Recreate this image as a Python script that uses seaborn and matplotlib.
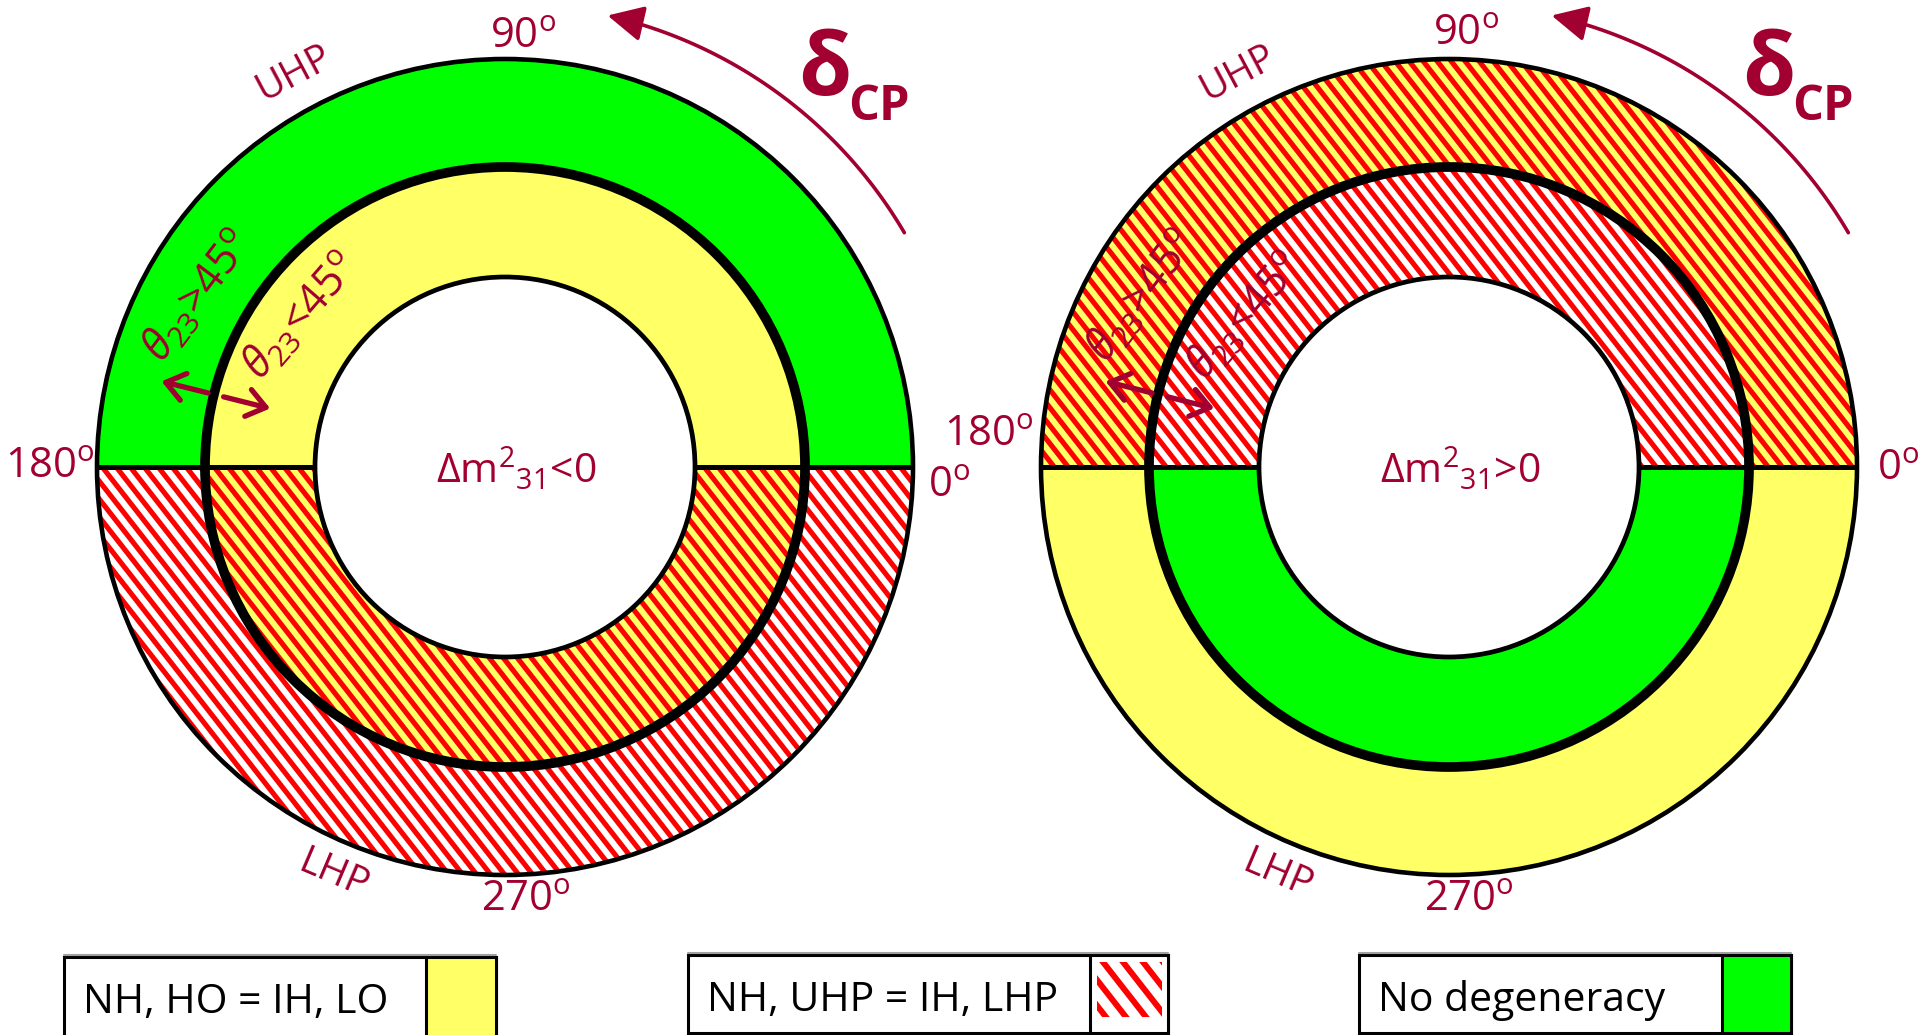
import numpy as np
import matplotlib
matplotlib.use("Agg")
import matplotlib.pyplot as plt
import seaborn as sns
from matplotlib.patches import Wedge, Circle, Rectangle, FancyArrowPatch
from matplotlib.collections import LineCollection
from matplotlib.path import Path

# ---------------- content ----------------
cp_angles = [0, 90, 180, 270]
cp_angle_labels = ["0", "90", "180", "270"]
half_planes = ["UHP", "LHP"]
# outer ring, middle ring
octant_labels = [r"$\theta_{23}$>45$^{\mathrm{o}}$", r"$\theta_{23}$<45$^{\mathrm{o}}$"]
hierarchy_labels = [r"Δm$^{2}$$_{31}$<0", r"Δm$^{2}$$_{31}$>0"]
# degeneracy class of [outer ring, middle ring] in each half plane
left_upper = ["none", "octant"]
left_lower = ["cp", "both"]
right_upper = ["both", "cp"]
right_lower = ["octant", "none"]
legend_labels = ["NH, HO = IH, LO", "NH, UHP = IH, LHP", "No degeneracy"]
legend_kinds = ["octant", "cp", "none"]

# ---------------- style ----------------
sns.set_theme(style="white")
plt.rcParams["font.family"] = ["Open Sans", "DejaVu Sans"]
plt.rcParams["mathtext.fontset"] = "custom"
plt.rcParams["mathtext.rm"] = "Open Sans"
plt.rcParams["mathtext.it"] = "Open Sans:italic"
plt.rcParams["mathtext.bf"] = "Open Sans:bold"

GREEN = "#00FF00"
YELLOW = "#FFFF66"
RED = "#FF0000"
DARK = "#A10030"
KIND_STYLE = {
    "none": (GREEN, None),
    "octant": (YELLOW, None),
    "cp": ("white", RED),
    "both": (YELLOW, RED),
}

W, H = 1920, 1035
fig = plt.figure(figsize=(W / 100, H / 100), dpi=100)
ax = fig.add_axes([0, 0, 1, 1])
ax.set_xlim(0, W)
ax.set_ylim(0, H)
ax.axis("off")


def P(x, y):
    """screen pixel (y downwards) -> axes data"""
    return (x, H - y)


def stripe_fill(clip, bounds, color, period_x, lw, angle=52, z=2):
    x0, y0, x1, y1 = bounds
    a = np.radians(angle)
    dx, dy = np.cos(a), -np.sin(a)
    span = (x1 - x0) + (y1 - y0)
    yc = 0.0
    # lines pass through (x, yc) with a global phase so patterns line up
    lo = np.floor((x0 - 2 * span - H) / period_x) * period_x
    xs = np.arange(lo, x1 + 2 * span + H, period_x)
    L = 3 * (span + H)
    segs = [[(x - dx * L, yc - dy * L), (x + dx * L, yc + dy * L)] for x in xs]
    lc = LineCollection(segs, colors=color, linewidths=lw, zorder=z,
                        capstyle="butt")
    ax.add_collection(lc)
    lc.set_clip_path(clip)


R_OUT, R_MID, R_IN = 408, 300, 190


def draw_diagram(cx, cy_px, upper, lower, hier_label):
    c = P(cx, cy_px)
    rings = [(R_OUT, R_OUT - R_MID), (R_MID, R_MID - R_IN)]
    for kinds, (t1, t2) in ((upper, (0, 180)), (lower, (180, 360))):
        for kind, (r, w) in zip(kinds, rings):
            bg, fg = KIND_STYLE[kind]
            wd = Wedge(c, r, t1, t2, width=w, facecolor=bg, edgecolor="none",
                       zorder=1)
            ax.add_patch(wd)
            if fg is not None:
                stripe_fill(wd, (c[0] - r, c[1] - r, c[0] + r, c[1] + r),
                            fg, 14.0, 3.7)
    # outlines
    ax.add_patch(Circle(c, R_IN, facecolor="white", edgecolor="black",
                        lw=3.4, zorder=3))
    ax.add_patch(Circle(c, R_MID, facecolor="none", edgecolor="black",
                        lw=7.0, zorder=3))
    ax.add_patch(Circle(c, R_OUT, facecolor="none", edgecolor="black",
                        lw=3.3, zorder=3))
    for sgn in (-1, 1):
        ax.plot([c[0] + sgn * R_IN, c[0] + sgn * R_OUT], [c[1], c[1]],
                color="black", lw=3.6, solid_capstyle="butt", zorder=3)

    # hierarchy label in the middle
    ax.text(c[0] + 11, c[1] - 2, hier_label, ha="center", va="center",
            fontsize=29.5, color=DARK, zorder=5)

    # half plane labels
    ax.text(c[0] - 211, c[1] + 394, half_planes[0], ha="center", va="center",
            rotation=28, fontsize=28, color=DARK, zorder=5)
    ax.text(c[0] - 172, c[1] - 408, half_planes[1], ha="center", va="center",
            rotation=-23, fontsize=28, color=DARK, zorder=5)

    # octant labels and arrows across the ring boundary
    ax.text(c[0] - 306, c[1] + 170, octant_labels[0], ha="center",
            va="center", rotation=53, fontsize=31, color=DARK, zorder=5)
    ax.text(c[0] - 203, c[1] + 150, octant_labels[1], ha="center",
            va="center", rotation=49, fontsize=31, color=DARK, zorder=5)
    phi = np.radians(166)
    u = np.array([np.cos(phi), np.sin(phi)])
    for r0, r1 in ((306, 354), (290, 242)):
        a = FancyArrowPatch(tuple(np.array(c) + r0 * u),
                            tuple(np.array(c) + r1 * u),
                            arrowstyle="->,head_length=0.6,head_width=0.45",
                            mutation_scale=22, lw=3.8, color=DARK,
                            shrinkA=0, shrinkB=0, zorder=6)
        ax.add_patch(a)

    # delta_CP direction arrow
    th = np.radians(np.linspace(30.4, 77.2, 80))
    pts = np.column_stack([c[0] + 463 * np.cos(th), c[1] + 463 * np.sin(th)])
    arc = FancyArrowPatch(path=Path(pts),
                          arrowstyle="-|>,head_length=1.1,head_width=0.55",
                          mutation_scale=20, lw=2.6, color=DARK, zorder=6)
    ax.add_patch(arc)
    ax.text(c[0] + 320, c[1] + 394, "δ", ha="center", va="center",
            fontsize=62, fontweight="bold", color=DARK, zorder=5)
    ax.text(c[0] + 374, c[1] + 360, "CP", ha="center", va="center",
            fontsize=35, fontweight="bold", color=DARK, zorder=5)


def degree_labels(cx, cy_px, offsets):
    c = P(cx, cy_px)
    for ang, lab in zip(cp_angles, cp_angle_labels):
        ox, oy = offsets[ang]
        ax.text(c[0] + ox, c[1] - oy, lab + r"$^{\mathrm{o}}$", ha="center",
                va="center", fontsize=30, color=DARK, zorder=5)


draw_diagram(505, 467, left_upper, left_lower, hierarchy_labels[0])
draw_diagram(1449, 467, right_upper, right_lower, hierarchy_labels[1])
degree_labels(505, 467, {0: (444, 19), 90: (18, -430), 180: (-455, 0),
                         270: (21, 433)})
degree_labels(1449, 467, {0: (449, 2), 90: (17, -433), 180: (-460, -32),
                          270: (20, 433)})

# ---------------- legend boxes ----------------
boxes = [(64, 496, 426, 957, 1045), (688, 1168, 1090, 955, 1033),
         (1359, 1791, 1722, 955, 1033)]
for (x0, x1, xd, y0, y1), lab, kind in zip(boxes, legend_labels, legend_kinds):
    ax.plot([x0, x1], [H - y0 + 2.5, H - y0 + 2.5], color="#A0A0A0", lw=1.5,
            zorder=7)
    ax.add_patch(Rectangle(P(x0, y1), x1 - x0, y1 - y0, facecolor="white",
                           edgecolor="black", lw=2.2, zorder=4))
    bg, fg = KIND_STYLE[kind]
    sw = Rectangle(P(xd, y1), x1 - xd, y1 - y0, facecolor=bg,
                   edgecolor="black", lw=2.2, zorder=5)
    ax.add_patch(sw)
    if fg is not None:
        inner = Rectangle(P(xd + 7, y1 - 16), x1 - xd - 13, y1 - y0 - 23,
                          facecolor="none", edgecolor="none", zorder=5)
        ax.add_patch(inner)
        stripe_fill(inner, (xd, H - y1, x1, H - y0), fg, 20, 4.3, z=6)
    ax.text(x0 + 19, H - (y0 + 56), lab, ha="left", va="baseline",
            fontsize=29.5, color="black", zorder=6)

fig.savefig("out.png", dpi=100)
